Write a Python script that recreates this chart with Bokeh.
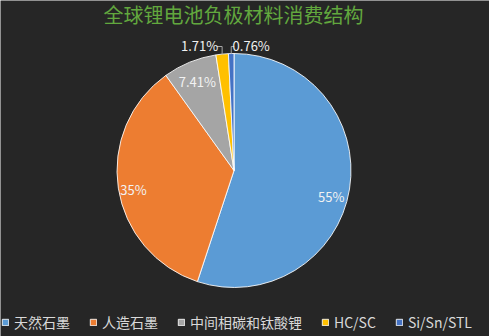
import numpy as np
from bokeh.plotting import figure
from bokeh.models import ColumnDataSource, Legend, LegendItem, Label, Range1d
from bokeh.embed import file_html
from bokeh.resources import INLINE
from bokeh.core.properties import value

# ---------------- data ----------------
title = "全球锂电池负极材料消费结构"
categories = ["天然石墨", "人造石墨", "中间相碳和钛酸锂", "HC/SC", "Si/Sn/STL"]
shares = [55, 35, 7.41, 1.71, 0.76]
share_labels = ["55%", "35%", "7.41%", "1.71%", "0.76%"]

# ---------------- style ----------------
colors = ["#5B9BD5", "#ED7D31", "#A5A5A5", "#FFC000", "#4472C4"]
BG = "#262626"
FONT = "Noto Sans CJK SC"
W, H = 489, 336
cx, cy, R = 233.5, H - 170, 117

frac = np.array(shares) / sum(shares)
cum = np.concatenate([[0.0], np.cumsum(frac)])
# clockwise from 12 o'clock
start = np.pi / 2 - cum[1:] * 2 * np.pi
end = np.pi / 2 - cum[:-1] * 2 * np.pi
mid = (start + end) / 2

p = figure(width=W, height=H, x_range=Range1d(0, W), y_range=Range1d(0, H),
           min_border=0, toolbar_location=None, output_backend="svg",
           background_fill_color=BG, border_fill_color=BG, outline_line_color=None,
           x_axis_location=None, y_axis_location=None)
p.grid.visible = False

src = ColumnDataSource(dict(start=start, end=end, color=colors, cat=categories))
wr = p.wedge(x=cx, y=cy, radius=R, start_angle="start", end_angle="end",
             fill_color="color", line_color="#FFFFFF", line_width=1, line_alpha=0.85,
             source=src)

# inside labels (first three slices)
r_fac = [0.86, 0.875, 0.826]
ang_nudge = np.radians([-5.8, 2.0, 0.0])
lx, ly, lt = [], [], []
for i in range(3):
    a = mid[i] + ang_nudge[i]
    lx.append(cx + R * r_fac[i] * np.cos(a))
    ly.append(cy + R * r_fac[i] * np.sin(a))
    lt.append(share_labels[i])

# outside labels with leader lines (small slices)
out_off = [-22.5, 20.0]
half_w = [17.0, 17.0]
leader_xs, leader_ys = [], []
for k, i in enumerate([3, 4]):
    ex = cx + R * np.cos(mid[i])
    ey = cy + R * np.sin(mid[i])
    tx = ex + out_off[k]
    ty = cy + R + 8
    lx.append(tx); ly.append(ty); lt.append(share_labels[i])
    side = 1 if out_off[k] < 0 else -1
    sx = tx + side * half_w[k]
    leader_xs.append([sx, ex, ex])
    leader_ys.append([ty - 1, ty - 1, ey])

p.multi_line(xs=leader_xs, ys=leader_ys, line_color="#A6A6A6", line_width=1)

p.text(x=lx, y=ly, text=lt, text_align="center", text_baseline="middle",
       text_font=value(FONT), text_font_size="13px", text_color="#F2F2F2")

p.add_layout(Label(x=233, y=H - 14, text=title, text_align="center",
                   text_baseline="middle", text_font=FONT, text_font_size="20px",
                   text_color="#62A83E"))

legend = Legend(
    items=[LegendItem(label=categories[i], renderers=[wr], index=i) for i in range(len(categories))],
    orientation="horizontal", location=(1, 4),
    glyph_width=8, glyph_height=8, label_standoff=5, spacing=19,
    padding=0, margin=0, label_height=16,
    label_text_font=FONT, label_text_font_size="14px", label_text_color="#D9D9D9",
    border_line_color=None, background_fill_alpha=0,
)
p.add_layout(legend, "center")

open("out.html", "w").write(file_html(p, INLINE))
